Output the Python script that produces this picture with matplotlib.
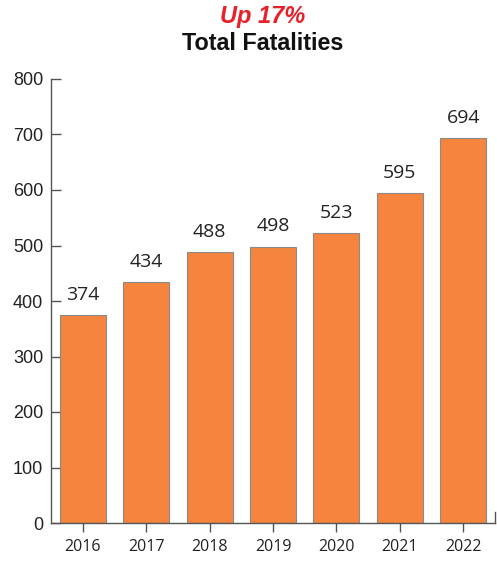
import matplotlib
matplotlib.use("Agg")
import matplotlib.pyplot as plt

years = ["2016", "2017", "2018", "2019", "2020", "2021", "2022"]
fatalities = [374, 434, 488, 498, 523, 595, 694]
yticks = [0, 100, 200, 300, 400, 500, 600, 700, 800]

bar_color = "#F4843E"
axis_color = "#555555"

fig = plt.figure(figsize=(4.97, 5.61), dpi=100)
ax = fig.add_axes([51 / 497, 38 / 561, 444 / 497, 444 / 561])

x = list(range(len(years)))
ax.bar(x, fatalities, width=0.725, color=bar_color, edgecolor="#8a8a8a", linewidth=0.8, zorder=2)

for xi, v in zip(x, fatalities):
    ax.annotate(str(v), (xi, v), xytext=(0, 8), textcoords="offset points",
                ha="center", va="bottom", fontsize=14, family="Open Sans", color="#222222")

ax.set_xlim(-0.5, 6.5)
ax.set_ylim(0, 800)
ax.set_yticks(yticks)
ax.set_yticklabels([str(t) for t in yticks], family="Liberation Sans", fontsize=13, color="#222222")
ax.set_xticks(x)
ax.set_xticklabels(years, family="Open Sans", fontsize=11.5, color="#222222")

ax.tick_params(axis="y", direction="in", length=7, width=1, color=axis_color, pad=5.5)
ax.tick_params(axis="x", direction="out", length=6.5, width=1, color=axis_color, pad=5)

ax.spines["top"].set_visible(False)
ax.spines["right"].set_bounds(0, 20)
for side in ("left", "bottom", "right"):
    ax.spines[side].set_color(axis_color)
    ax.spines[side].set_linewidth(1)

fig.text(263 / 497, 1 - 17 / 561, "Up 17%", ha="center", va="center", color="#E8202A",
         fontsize=17, fontweight="bold", fontstyle="italic", family="Liberation Sans")
fig.text(263 / 497, 1 - 44 / 561, "Total Fatalities", ha="center", va="center", color="#111111",
         fontsize=16.8, fontweight="bold", family="Liberation Sans")

fig.savefig("out.png", dpi=100)
